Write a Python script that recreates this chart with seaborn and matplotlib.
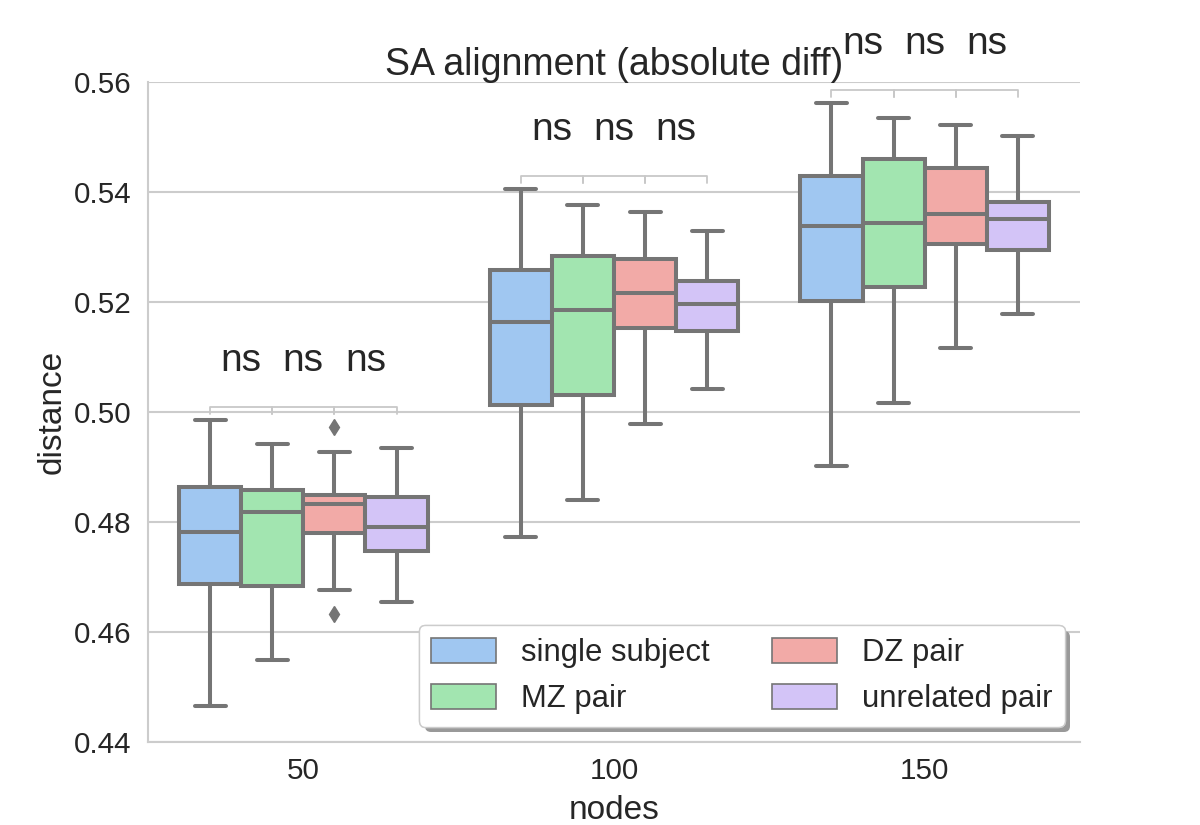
import numpy as np
import pandas as pd
import seaborn as sns
import matplotlib
matplotlib.use("Agg")
import matplotlib.pyplot as plt
from matplotlib import patheffects

# box summaries: (whisker low, q1, median, q3, whisker high)
nodes = ["50", "100", "150"]
groups = ["single subject", "MZ pair", "DZ pair", "unrelated pair"]

whisk_lo = {"50":  [0.4465, 0.4549, 0.4676, 0.4654],
            "100": [0.4772, 0.4840, 0.4979, 0.5042],
            "150": [0.4901, 0.5017, 0.5117, 0.5179]}
q1 = {"50":  [0.4687, 0.4684, 0.4780, 0.4748],
      "100": [0.5013, 0.5031, 0.5153, 0.5147],
      "150": [0.5202, 0.5228, 0.5305, 0.5295]}
median = {"50":  [0.4782, 0.4819, 0.4832, 0.4791],
          "100": [0.5163, 0.5185, 0.5216, 0.5196],
          "150": [0.5339, 0.5343, 0.5360, 0.5351]}
q3 = {"50":  [0.4864, 0.4858, 0.4850, 0.4846],
      "100": [0.5258, 0.5284, 0.5278, 0.5238],
      "150": [0.5429, 0.5460, 0.5443, 0.5381]}
whisk_hi = {"50":  [0.4985, 0.4941, 0.4928, 0.4934],
            "100": [0.5405, 0.5376, 0.5364, 0.5329],
            "150": [0.5561, 0.5535, 0.5521, 0.5502]}
# outliers (low, high) for (node, group)
outliers = {("50", "DZ pair"): ([0.4632], [0.4972])}

palette = ["#92C6FF", "#97F0AA", "#FF9F9A", "#D0BBFF"]
gray = "#757575"

rows = []
for n in nodes:
    for i, g in enumerate(groups):
        lo_out, hi_out = outliers.get((n, g), ([], []))
        vals = (lo_out + [whisk_lo[n][i]] + [q1[n][i]] * (1 + len(lo_out)) + [median[n][i]]
                + [q3[n][i]] * (1 + len(hi_out)) + [whisk_hi[n][i]] + hi_out)
        for v in vals:
            rows.append({"nodes": n, "group": g, "distance": v})
df = pd.DataFrame(rows)

sns.set_theme(style="whitegrid")
plt.rcParams["font.family"] = ["Liberation Sans", "DejaVu Sans"]
plt.rcParams["text.color"] = ".15"
plt.rcParams["axes.labelcolor"] = ".15"

fig = plt.figure(figsize=(12, 8.25), dpi=100)
ax = fig.add_axes([0.1233, 0.1006, 0.7767, 0.8])

sns.boxplot(data=df, x="nodes", y="distance", hue="group", order=nodes, hue_order=groups,
            palette=palette, saturation=0.75, linecolor=gray, linewidth=2.9, width=0.8,
            flierprops=dict(marker="d", markerfacecolor=gray, markeredgecolor=gray, markersize=8),
            ax=ax)

# "ns" brackets between neighbouring boxes
offsets = [-0.3, -0.1, 0.1, 0.3]
for k, n in enumerate(nodes):
    top = max(whisk_hi[n] + [v for g in groups for v in outliers.get((n, g), ([], []))[1]])
    y = top + 0.0012
    h = 0.0012
    for j in range(3):
        x1, x2 = k + offsets[j], k + offsets[j + 1]
        ax.plot([x1, x1, x2, x2], [y, y + h, y + h, y], color="#c8c8c8", lw=1.3, clip_on=False)
        ax.text((x1 + x2) / 2, y + h + 0.0066, "ns", ha="center", va="baseline",
                fontsize=28, clip_on=False)

ax.set_xlim(-0.5, 2.5)
ax.set_ylim(0.44, 0.56)
ax.set_yticks(np.arange(0.44, 0.5601, 0.02))
ax.set_yticklabels(["%.2f" % t for t in np.arange(0.44, 0.5601, 0.02)])
ax.xaxis.grid(False)
ax.yaxis.grid(True, color="#cccccc", linewidth=1.5)
sns.despine(ax=ax, top=True, right=True)
for s in ["left", "bottom"]:
    ax.spines[s].set_color("#cccccc")
    ax.spines[s].set_linewidth(1.5)
ax.tick_params(axis="y", labelsize=21.3, pad=12, length=0)
ax.tick_params(axis="x", labelsize=21.3, pad=11, length=0)
ax.set_xlabel("nodes", fontsize=24, labelpad=7)
ax.set_ylabel("distance", fontsize=24)
ax.set_title("SA alignment (absolute diff)", fontsize=27, pad=5)

handles, labels = ax.get_legend_handles_labels()
leg = ax.legend(handles, labels, loc="lower right", ncol=2, fontsize=22.3, frameon=True,
                fancybox=True, framealpha=1, edgecolor="#cccccc", handleheight=0.9,
                handlelength=2.1)
for p in leg.get_patches():
    p.set_linewidth(1.2)
leg.get_frame().set_path_effects([patheffects.withSimplePatchShadow(offset=(4, -4),
                                  shadow_rgbFace="0.6", alpha=1), patheffects.Normal()])

fig.savefig("out.png", dpi=100)
